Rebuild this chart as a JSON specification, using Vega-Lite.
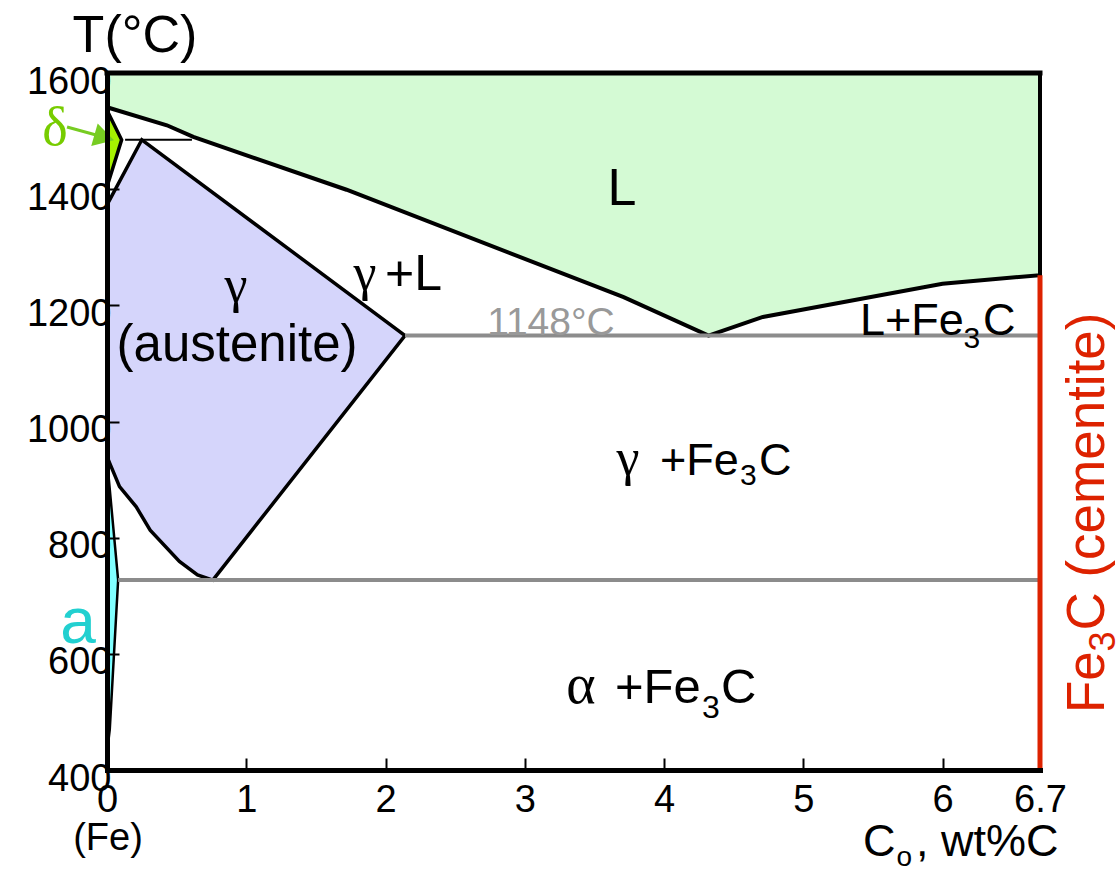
{
  "$schema": "https://vega.github.io/schema/vega-lite/v6.json",
  "width": 933,
  "height": 697,
  "autosize": {"type": "none"},
  "padding": {"left": 107, "top": 73, "right": 80, "bottom": 100},
  "background": "white",
  "config": {"view": {"stroke": null}},
  "datasets": {
    "shapes": [
      {"shape": "L", "i": 0, "x": 0, "T": 1600},
      {"shape": "L", "i": 1, "x": 6.7, "T": 1600},
      {"shape": "L", "i": 2, "x": 6.7, "T": 1252},
      {"shape": "L", "i": 3, "x": 6.0, "T": 1237},
      {"shape": "L", "i": 4, "x": 4.71, "T": 1180},
      {"shape": "L", "i": 5, "x": 4.32, "T": 1148},
      {"shape": "L", "i": 6, "x": 3.71, "T": 1214},
      {"shape": "L", "i": 7, "x": 1.72, "T": 1399},
      {"shape": "L", "i": 8, "x": 0.62, "T": 1490},
      {"shape": "L", "i": 9, "x": 0.43, "T": 1510},
      {"shape": "L", "i": 10, "x": 0, "T": 1541},
      {"shape": "gamma", "i": 0, "x": 0, "T": 1373},
      {"shape": "gamma", "i": 1, "x": 0.25, "T": 1485},
      {"shape": "gamma", "i": 2, "x": 2.14, "T": 1148},
      {"shape": "gamma", "i": 3, "x": 0.76, "T": 727},
      {"shape": "gamma", "i": 4, "x": 0.65, "T": 736},
      {"shape": "gamma", "i": 5, "x": 0.52, "T": 759},
      {"shape": "gamma", "i": 6, "x": 0.31, "T": 813},
      {"shape": "gamma", "i": 7, "x": 0.21, "T": 853},
      {"shape": "gamma", "i": 8, "x": 0.09, "T": 888},
      {"shape": "gamma", "i": 9, "x": 0.02, "T": 928},
      {"shape": "gamma", "i": 10, "x": 0, "T": 940},
      {"shape": "delta", "i": 0, "x": 0, "T": 1536},
      {"shape": "delta", "i": 1, "x": 0.105, "T": 1485},
      {"shape": "delta", "i": 2, "x": 0, "T": 1404},
      {"shape": "alpha", "i": 0, "x": 0, "T": 935},
      {"shape": "alpha", "i": 1, "x": 0.08, "T": 727},
      {"shape": "alpha", "i": 2, "x": 0.02, "T": 470},
      {"shape": "alpha", "i": 3, "x": 0, "T": 430}
    ]
  },
  "encoding": {
    "x": {
      "field": "x", "type": "quantitative",
      "scale": {"domain": [0, 6.7], "nice": false, "zero": false},
      "axis": {
        "values": [0, 1, 2, 3, 4, 5, 6, 6.7], "title": null, "grid": false,
        "labelExpr": "datum.value == 6.7 ? '6.7' : format(datum.value, 'd')",
        "domainColor": "black", "domainWidth": 5, "domainCap": "square",
        "tickColor": {"condition": {"test": "datum.value == 6.7 || datum.value == 0", "value": "transparent"}, "value": "black"},
        "tickWidth": 2, "tickSize": -12,
        "labelFont": "Liberation Sans", "labelFontSize": 38, "labelColor": "black",
        "labelPadding": 23, "labelFlush": false, "labelOverlap": false, "zindex": 1
      }
    },
    "y": {
      "field": "T", "type": "quantitative",
      "scale": {"domain": [400, 1600], "nice": false, "zero": false},
      "axis": {
        "values": [400, 600, 800, 1000, 1200, 1400, 1600], "format": "d", "title": null, "grid": false,
        "domainColor": "black", "domainWidth": 5, "domainCap": "square",
        "tickColor": "black", "tickWidth": 2, "tickSize": -12,
        "labelFont": "Liberation Sans", "labelFontSize": 38, "labelColor": "black",
        "labelPadding": 8, "labelOffset": 9, "labelBaseline": "middle", "labelFlush": false, "labelOverlap": false, "zindex": 1
      }
    }
  },
  "layer": [
    {
      "data": {"name": "shapes"},
      "transform": [{"filter": "datum.shape == 'L'"}],
      "mark": {"type": "line", "fill": "#d4fad4", "stroke": "black", "strokeWidth": 4},
      "encoding": {"order": {"field": "i", "type": "quantitative"}}
    },
    {
      "data": {"name": "shapes"},
      "transform": [{"filter": "datum.shape == 'gamma'"}],
      "mark": {"type": "line", "fill": "#d5d5fb", "stroke": "black", "strokeWidth": 3.5},
      "encoding": {"order": {"field": "i", "type": "quantitative"}}
    },
    {
      "data": {"name": "shapes"},
      "transform": [{"filter": "datum.shape == 'delta'"}],
      "mark": {"type": "line", "fill": "#a6f200", "stroke": "black", "strokeWidth": 3.5},
      "encoding": {"order": {"field": "i", "type": "quantitative"}}
    },
    {
      "data": {"name": "shapes"},
      "transform": [{"filter": "datum.shape == 'alpha'"}],
      "mark": {"type": "line", "fill": "#80ffff", "stroke": "black", "strokeWidth": 2.5},
      "encoding": {"order": {"field": "i", "type": "quantitative"}}
    },
    {
      "data": {"values": [{"x": 2.14, "x2": 6.7, "T": 1148}, {"x": 0.08, "x2": 6.7, "T": 727}]},
      "mark": {"type": "rule", "color": "#8c8c8c", "strokeWidth": 4},
      "encoding": {"x2": {"field": "x2"}}
    },
    {
      "data": {"values": [{"x": 0.13, "x2": 0.61, "T": 1485}]},
      "mark": {"type": "rule", "color": "black", "strokeWidth": 2},
      "encoding": {"x2": {"field": "x2"}}
    },
    {
      "data": {"values": [{"x": 0, "x2": 6.7, "T": 1600}]},
      "mark": {"type": "rule", "color": "black", "strokeWidth": 5, "strokeCap": "square"},
      "encoding": {"x2": {"field": "x2"}}
    },
    {
      "data": {"values": [{"x": 6.7, "T": 1600, "T2": 1252}]},
      "mark": {"type": "rule", "color": "black", "strokeWidth": 4},
      "encoding": {"y2": {"field": "T2"}}
    },
    {
      "data": {"values": [{"x": 6.7, "T": 1252, "T2": 400}]},
      "mark": {"type": "rule", "color": "#dd2200", "strokeWidth": 5},
      "encoding": {"y2": {"field": "T2"}}
    },
    {
      "data": {"values": [{"x": -0.287, "T": 1507, "x2": 0.0, "T2": 1488}]},
      "mark": {"type": "rule", "color": "#77cc22", "strokeWidth": 3},
      "encoding": {"x2": {"field": "x2"}, "y2": {"field": "T2"}}
    },
    {
      "data": {"values": [{"x": -0.02, "T": 1489}]},
      "mark": {"type": "point", "shape": "triangle-right", "filled": true, "color": "#77cc22", "opacity": 1, "size": 550, "angle": 16},
      "encoding": {}
    },
    {
      "data": {"values": [{"x": 0.201, "T": 1636, "t": "T(°C)"}, {"x": 3.698, "T": 1373, "t": "L"}]},
      "mark": {"type": "text", "font": "Liberation Sans", "fontSize": 52, "align": "center", "baseline": "alphabetic", "color": "black"},
      "encoding": {"text": {"field": "t"}}
    },
    {
      "data": {"values": [{"x": 0.934, "T": 1104, "t": "(austenite)"}]},
      "mark": {"type": "text", "font": "Liberation Sans", "fontSize": 51, "align": "center", "baseline": "alphabetic", "color": "black"},
      "encoding": {"text": {"field": "t"}}
    },
    {
      "data": {"values": [{"x": 0.926, "T": 1206, "t": "γ"}, {"x": 1.853, "T": 1226, "t": "γ"}, {"x": 3.741, "T": 908, "t": "γ"}]},
      "mark": {"type": "text", "font": "Liberation Serif", "fontSize": 52, "align": "center", "baseline": "alphabetic", "color": "black"},
      "encoding": {"text": {"field": "t"}}
    },
    {
      "data": {"values": [{"x": 3.404, "T": 515, "t": "α"}]},
      "mark": {"type": "text", "font": "Liberation Serif", "fontSize": 56, "align": "center", "baseline": "alphabetic", "color": "black"},
      "encoding": {"text": {"field": "t"}}
    },
    {
      "data": {"values": [{"x": -0.373, "T": 1476, "t": "δ"}]},
      "mark": {"type": "text", "font": "Liberation Serif", "fontSize": 54, "align": "center", "baseline": "alphabetic", "color": "#77cc00"},
      "encoding": {"text": {"field": "t"}}
    },
    {
      "data": {"values": [{"x": -0.208, "T": 619, "t": "a"}]},
      "mark": {"type": "text", "font": "Liberation Sans", "fontSize": 64, "align": "center", "baseline": "alphabetic", "color": "#22d0d0"},
      "encoding": {"text": {"field": "t"}}
    },
    {
      "data": {"values": [{"x": 1.996, "T": 1226, "t": "+L"}]},
      "mark": {"type": "text", "font": "Liberation Sans", "fontSize": 50, "align": "left", "baseline": "alphabetic", "color": "black"},
      "encoding": {"text": {"field": "t"}}
    },
    {
      "data": {"values": [{"x": 3.188, "T": 1149, "t": "1148°C"}]},
      "mark": {"type": "text", "font": "Liberation Sans", "fontSize": 39, "align": "center", "baseline": "alphabetic", "color": "#999999"},
      "encoding": {"text": {"field": "t"}}
    },
    {
      "data": {"values": [
        {"x": 5.407, "T": 1149, "t": "L+Fe"}, {"x": 6.29, "T": 1149, "t": "C"},
        {"x": 3.971, "T": 908, "t": "+Fe"}, {"x": 4.682, "T": 908, "t": "C"},
        {"x": 5.429, "T": 252, "t": "C"}, {"x": 5.81, "T": 252, "t": ", wt%C"}
      ]},
      "mark": {"type": "text", "font": "Liberation Sans", "fontSize": 45, "align": "left", "baseline": "alphabetic", "color": "black"},
      "encoding": {"text": {"field": "t"}}
    },
    {
      "data": {"values": [{"x": 6.15, "T": 1126, "t": "3"}, {"x": 4.546, "T": 891, "t": "3"}]},
      "mark": {"type": "text", "font": "Liberation Sans", "fontSize": 30, "align": "left", "baseline": "alphabetic", "color": "black"},
      "encoding": {"text": {"field": "t"}}
    },
    {
      "data": {"values": [{"x": 3.648, "T": 515, "t": "+Fe"}, {"x": 4.409, "T": 515, "t": "C"}]},
      "mark": {"type": "text", "font": "Liberation Sans", "fontSize": 49, "align": "left", "baseline": "alphabetic", "color": "black"},
      "encoding": {"text": {"field": "t"}}
    },
    {
      "data": {"values": [{"x": 4.273, "T": 490, "t": "3"}]},
      "mark": {"type": "text", "font": "Liberation Sans", "fontSize": 32, "align": "left", "baseline": "alphabetic", "color": "black"},
      "encoding": {"text": {"field": "t"}}
    },
    {
      "data": {"values": [{"x": 5.67, "T": 234, "t": "o"}]},
      "mark": {"type": "text", "font": "Liberation Sans", "fontSize": 28, "align": "left", "baseline": "alphabetic", "color": "black"},
      "encoding": {"text": {"field": "t"}}
    },
    {
      "data": {"values": [{"x": 0.007, "T": 262, "t": "(Fe)"}]},
      "mark": {"type": "text", "font": "Liberation Sans", "fontSize": 38, "align": "center", "baseline": "alphabetic", "color": "black"},
      "encoding": {"text": {"field": "t"}}
    },
    {
      "data": {"values": [{"x": 7.16, "T": 498, "t": "Fe"}, {"x": 7.16, "T": 640, "t": "C (cementite)"}]},
      "mark": {"type": "text", "font": "Liberation Sans", "fontSize": 53, "align": "left", "baseline": "alphabetic", "angle": 270, "color": "#dd2200"},
      "encoding": {"text": {"field": "t"}}
    },
    {
      "data": {"values": [{"x": 7.24, "T": 604, "t": "3"}]},
      "mark": {"type": "text", "font": "Liberation Sans", "fontSize": 36, "align": "left", "baseline": "alphabetic", "angle": 270, "color": "#dd2200"},
      "encoding": {"text": {"field": "t"}}
    }
  ]
}
